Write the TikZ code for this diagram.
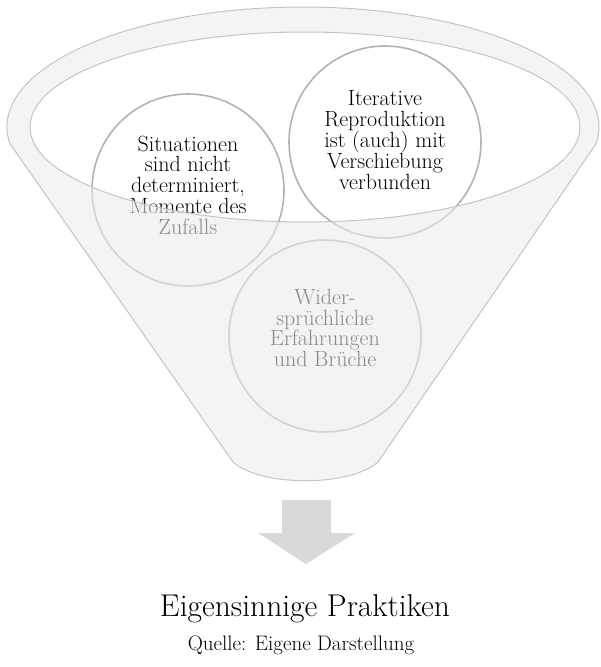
\documentclass[tikz,border=0pt]{standalone}
\usepackage{fontspec}
\usepackage{tikz}
\definecolor{funnelGray}{RGB}{236, 236, 236}
\definecolor{rimGray}{RGB}{196, 196, 196}
\definecolor{ringGray}{RGB}{178, 178, 178}
\definecolor{arrowGray}{RGB}{217, 217, 217}

\begin{document}
\begin{tikzpicture}[x=1pt, y=-1pt,
  ring/.style={circle, draw=ringGray, fill=white, line width=1.6pt,
               minimum size=192pt, inner sep=0pt},
  ringtext/.style={align=center, inner sep=0pt,
                   font=\fontsize{22}{20.8}\selectfont},
  rim/.style={draw=rimGray, line width=1pt},
  veil/.style={fill=funnelGray, fill opacity=0.58, even odd rule},
]
  \useasboundingbox (0,0) rectangle (601,667);

  % Circles with their texts
  \node[ring] (chance)  at (188,190) {};
  \node[ring] (iterate) at (385,142) {};
  \node[ring] (breaks)  at (325,336) {};
  \node[ringtext] (chanceText)  at (188,185) {Situationen\\sind nicht\\determiniert,\\Momente des\\Zufalls};
  \node[ringtext] (iterateText) at (385,140) {Iterative\\Reproduktion\\ist (auch) mit\\Verschiebung\\verbunden};
  \node[ringtext] (breaksText)  at (325,328) {Wider-\\sprüchliche\\Erfahrungen\\und Brüche};

  % Funnel body over the circles, open at the rim
  \fill[veil] (233,462) -- (9.88,143.7)
    arc[start angle=172, end angle=368, x radius=296, y radius=120]
    -- (378,462) .. controls (350,487) and (261,487) .. cycle
    (305,127) ellipse [x radius=275, y radius=95];
  \draw[rim] (233,462) -- (9.88,143.7)
    arc[start angle=172, end angle=368, x radius=296, y radius=120]
    -- (378,462) .. controls (350,487) and (261,487) .. cycle;
  \draw[rim] (305,127) ellipse [x radius=275, y radius=95];

  % Arrow down to the result
  \fill[arrowGray] (282,500) -- (331,500) -- (331,533) -- (355,533)
    -- (306,564) -- (258,533) -- (282,533) -- cycle;

  % Result and source
  \node[font=\fontsize{31.5}{33}\selectfont] (result) at (305,609) {Eigensinnige Praktiken};
  \node[font=\fontsize{21}{23}\selectfont] (source) at (301,645) {Quelle: Eigene Darstellung};
\end{tikzpicture}
\end{document}
